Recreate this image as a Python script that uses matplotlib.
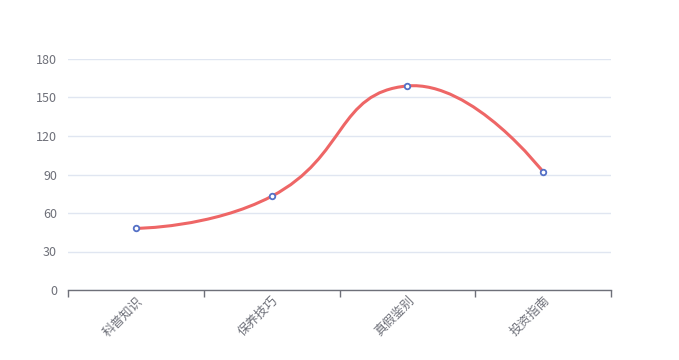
import matplotlib.pyplot as plt
import numpy as np
from matplotlib.path import Path
from matplotlib.patches import PathPatch

plt.rcParams['font.family'] = ['Noto Sans CJK SC', 'DejaVu Sans']

# 数据
categories = ["科普知识", "保养技巧", "真假鉴别", "投资指南"]
values = [48, 73, 159, 92]
y_ticks = [0, 30, 60, 90, 120, 150, 180]

line_color = '#ee6666'
point_color = '#5470c6'
axis_color = '#6e7079'
grid_color = '#e0e6f1'

fig = plt.figure(figsize=(6.79, 3.6), dpi=100)
ax = fig.add_axes([68 / 679, 70 / 360, 543 / 679, 231 / 360])

x = np.arange(len(categories))
ax.set_xlim(-0.5, len(categories) - 0.5)
ax.set_ylim(0, 180)

# 平滑曲线 (类似 echarts smooth: 0.5), 在像素坐标中计算控制点
pts = ax.transData.transform(np.column_stack([x, values]))
smooth = 0.5
n = len(pts)
cps = []
for i in range(n):
    if i == 0 or i == n - 1:
        cps.append((pts[i], pts[i]))
        continue
    prev, cur, nxt = pts[i - 1], pts[i], pts[i + 1]
    v = nxt - prev
    d0 = np.hypot(*(cur - prev))
    d1 = np.hypot(*(nxt - cur))
    s = d0 + d1
    cp_in = cur - v * smooth * d0 / s
    cp_out = cur + v * smooth * d1 / s
    cps.append((cp_in, cp_out))

verts = [pts[0]]
codes = [Path.MOVETO]
for i in range(n - 1):
    verts += [cps[i][1], cps[i + 1][0], pts[i + 1]]
    codes += [Path.CURVE4] * 3
inv = ax.transData.inverted()
verts = inv.transform(np.array(verts))
patch = PathPatch(Path(verts, codes), facecolor='none', edgecolor=line_color,
                  lw=2.2, capstyle='round', joinstyle='round', zorder=3)
ax.add_patch(patch)

ax.plot(x, values, linestyle='none', marker='o', markersize=4,
        markerfacecolor='white', markeredgecolor=point_color,
        markeredgewidth=1.3, zorder=4)

# 坐标轴
ax.set_yticks(y_ticks)
ax.yaxis.grid(True, color=grid_color, lw=1)
ax.set_axisbelow(True)
ax.tick_params(axis='y', length=0, pad=8, labelsize=9, labelcolor=axis_color)

ax.set_xticks(x)
ax.set_xticklabels(categories, rotation=45, ha='right', va='top',
                   rotation_mode='anchor', fontsize=9, color=axis_color)
ax.tick_params(axis='x', which='major', length=0, pad=3)
ax.set_xticks(np.arange(-0.5, len(categories)), minor=True)
ax.tick_params(axis='x', which='minor', length=5, color=axis_color, width=1)

for side in ['top', 'right', 'left']:
    ax.spines[side].set_visible(False)
ax.spines['bottom'].set_color(axis_color)
ax.spines['bottom'].set_linewidth(1)

fig.savefig('out.png', dpi=100)
